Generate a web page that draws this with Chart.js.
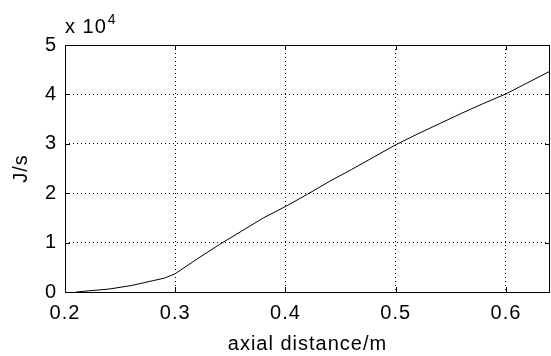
<!DOCTYPE html>
<html>
<head>
<meta charset="utf-8">
<script src="https://cdn.jsdelivr.net/npm/chart.js@4"></script>
<style>
  html, body { margin: 0; padding: 0; background: #fff; }
  #wrap { width: 551px; height: 356px; }
</style>
</head>
<body>
<div id="wrap"><canvas id="grafico" width="551" height="356"></canvas></div>
<script>
// axial position (m) and heat flow (J/s)
const distancia = [0.21, 0.22, 0.24, 0.26, 0.28, 0.29, 0.30, 0.31, 0.32, 0.34, 0.36, 0.38, 0.40,
                   0.42, 0.44, 0.46, 0.48, 0.50, 0.52, 0.54, 0.56, 0.58, 0.60, 0.62, 0.64];
const fluxo = [0, 200, 600, 1300, 2300, 2800, 3700, 5200, 6700, 9600, 12300, 15000, 17300,
               19800, 22400, 24800, 27300, 29800, 32000, 34100, 36200, 38200, 40100, 42400, 44700];
const ticksX = [0.2, 0.3, 0.4, 0.5, 0.6];
const ticksY = [0, 10000, 20000, 30000, 40000, 50000];
const ESCALA = 1e4;

const FONTE = "'Liberation Sans', Arial, Helvetica, sans-serif";

// a bit of tracking so the labels read wider, like the old plot fonts
const espacamento = {
    id: 'espacamento',
    beforeDraw(chart) { chart.ctx.letterSpacing = '1px'; }
};

// box around the axes, inward ticks and the "x 10^4" multiplier
const moldura = {
    id: 'moldura',
    afterDatasetsDraw(chart) {
        const { ctx, chartArea: a, scales } = chart;
        const TAM = 5;
        ctx.save();
        ctx.strokeStyle = '#000';
        ctx.lineWidth = 1;
        ctx.setLineDash([]);
        ctx.beginPath();
        ticksX.forEach(v => {
            const px = Math.round(scales.x.getPixelForValue(v)) + 0.5;
            ctx.moveTo(px, a.bottom); ctx.lineTo(px, a.bottom - TAM);
            ctx.moveTo(px, a.top); ctx.lineTo(px, a.top + TAM);
        });
        ticksY.forEach(v => {
            const py = Math.round(scales.y.getPixelForValue(v)) + 0.5;
            ctx.moveTo(a.left, py); ctx.lineTo(a.left + TAM, py);
            ctx.moveTo(a.right, py); ctx.lineTo(a.right - TAM, py);
        });
        ctx.stroke();
        ctx.strokeRect(Math.round(a.left) + 0.5, Math.round(a.top) + 0.5,
                       Math.round(a.right - a.left) - 1, Math.round(a.bottom - a.top));

        ctx.fillStyle = '#000';
        ctx.textBaseline = 'alphabetic';
        ctx.textAlign = 'left';
        ctx.font = `20px ${FONTE}`;
        const base = 'x 10';
        ctx.fillText(base, a.left, 33);
        const w = ctx.measureText(base).width;
        ctx.font = `14px ${FONTE}`;
        ctx.fillText('4', a.left + w + 1, 24);
        ctx.restore();
    }
};

new Chart(document.getElementById('grafico'), {
    type: 'line',
    data: {
        datasets: [{
            data: distancia.map((x, i) => ({ x, y: fluxo[i] })),
            borderColor: '#000',
            borderWidth: 1,
            pointRadius: 0,
            tension: 0,
            fill: false
        }]
    },
    options: {
        responsive: false,
        animation: false,
        layout: { padding: { top: 45, right: 1, left: 0, bottom: 0 } },
        plugins: { legend: { display: false }, tooltip: { enabled: false } },
        scales: {
            x: {
                type: 'linear',
                min: 0.2,
                max: 0.64,
                afterFit: s => { s.height = 64; },
                afterBuildTicks: s => { s.ticks = ticksX.map(v => ({ value: v })); },
                ticks: {
                    padding: 9,
                    color: '#000',
                    font: { family: FONTE, size: 20 },
                    callback: v => v.toFixed(1)
                },
                grid: { color: '#000', drawTicks: false },
                border: { display: false, dash: [1, 3] },
                title: {
                    display: true,
                    text: 'axial distance/m',
                    color: '#000',
                    font: { family: FONTE, size: 20 },
                    padding: { top: 0, bottom: 0 }
                }
            },
            y: {
                min: 0,
                max: 50000,
                afterFit: s => { s.width = 65; },
                afterBuildTicks: s => { s.ticks = ticksY.map(v => ({ value: v })); },
                ticks: {
                    padding: 8,
                    color: '#000',
                    font: { family: FONTE, size: 20 },
                    callback: v => String(v / ESCALA)
                },
                grid: { color: '#000', drawTicks: false },
                border: { display: false, dash: [1, 3] },
                title: {
                    display: true,
                    text: 'J/s',
                    color: '#000',
                    font: { family: FONTE, size: 20 },
                    padding: { top: 9, bottom: 0 }
                }
            }
        }
    },
    plugins: [espacamento, moldura]
});
</script>
</body>
</html>
